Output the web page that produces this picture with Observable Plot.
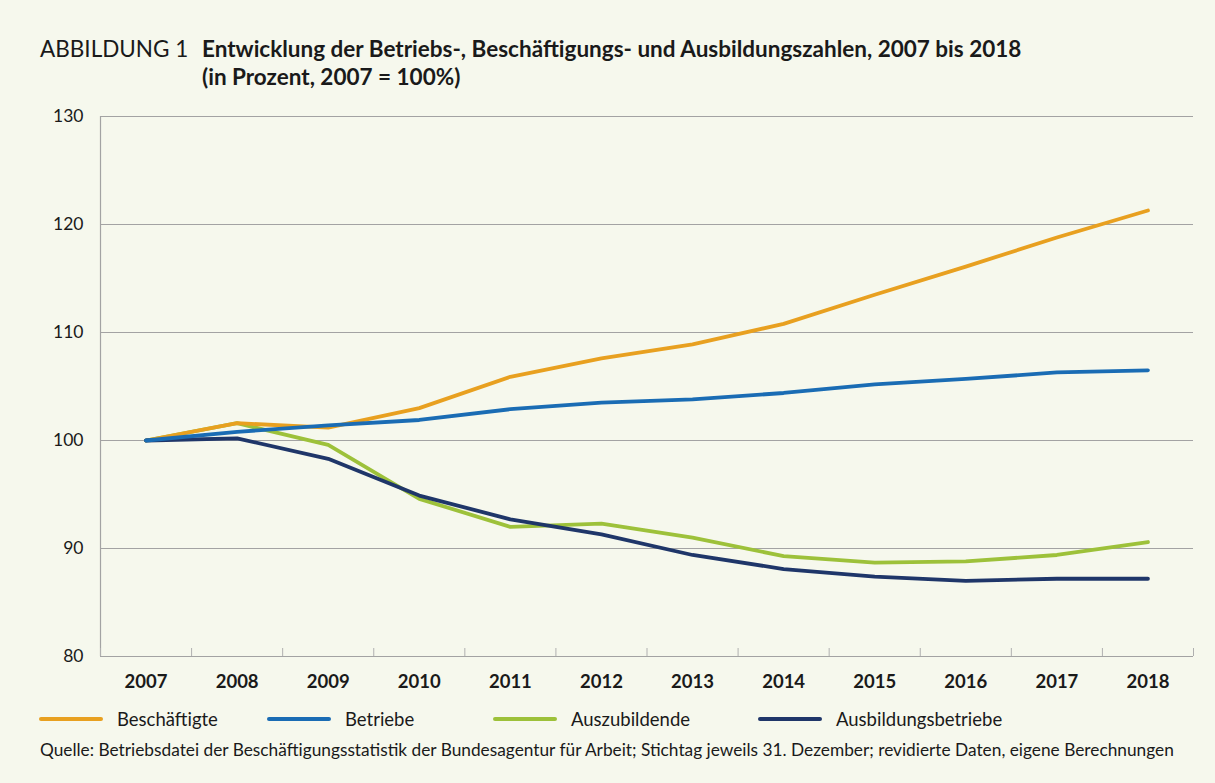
<!DOCTYPE html>
<html>
<head>
<meta charset="utf-8">
<script src="https://cdn.jsdelivr.net/npm/d3@7"></script>
<script src="https://cdn.jsdelivr.net/npm/@observablehq/plot@0.6"></script>
<style>
  html, body { margin: 0; padding: 0; background: #f6f8ed; }
  #wrap { position: relative; width: 1215px; height: 783px; background: #f6f8ed; font-family: Lato, "Open Sans", sans-serif; color: #1a1a1a; overflow: hidden; }
  #title { position: absolute; left: 40px; top: 35px; font-size: 22.5px; line-height: 28px; }
  #title .lab { position: absolute; left: 0; top: 0; white-space: nowrap; }
  #title .main { position: absolute; left: 162px; top: 0; font-weight: 700; white-space: nowrap; }
  #chart { position: absolute; left: 0; top: 100px; }
  #legend { position: absolute; left: 0; top: 706px; width: 1215px; height: 26px; font-size: 18.5px; }
  .item { position: absolute; top: 0; display: flex; align-items: center; height: 26px; white-space: nowrap; }
  .sw { width: 64px; height: 4px; border-radius: 2px; margin-right: 14px; }
  #caption { position: absolute; left: 40px; top: 739px; font-size: 17.3px; white-space: nowrap; color: #1a1a1a; }
</style>
</head>
<body>
<div id="wrap">
  <div id="title">
    <div class="lab">ABBILDUNG 1</div>
    <div class="main">Entwicklung der Betriebs-, Beschäftigungs- und Ausbildungszahlen, 2007 bis 2018<br>(in Prozent, 2007 = 100%)</div>
  </div>
  <div id="chart"></div>
  <div id="legend"></div>
  <div id="caption">Quelle: Betriebsdatei der Beschäftigungsstatistik der Bundesagentur für Arbeit; Stichtag jeweils 31. Dezember; revidierte Daten, eigene Berechnungen</div>
</div>
<script>
const years = [2007, 2008, 2009, 2010, 2011, 2012, 2013, 2014, 2015, 2016, 2017, 2018];
const beschaeftigte = [100, 101.6, 101.2, 103.0, 105.9, 107.6, 108.9, 110.8, 113.5, 116.1, 118.8, 121.3];
const betriebe = [100, 100.8, 101.4, 101.9, 102.9, 103.5, 103.8, 104.4, 105.2, 105.7, 106.3, 106.5];
const auszubildende = [100, 101.6, 99.6, 94.6, 92.0, 92.3, 91.0, 89.3, 88.7, 88.8, 89.4, 90.6];
const ausbildungsbetriebe = [100, 100.2, 98.3, 94.9, 92.7, 91.3, 89.4, 88.1, 87.4, 87.0, 87.2, 87.2];
const yTicks = [80, 90, 100, 110, 120, 130];

const seriesNames = ["Beschäftigte", "Betriebe", "Auszubildende", "Ausbildungsbetriebe"];
const seriesColors = ["#e8a020", "#1a6cb4", "#9dc13a", "#1f3669"];
const seriesValues = [beschaeftigte, betriebe, auszubildende, ausbildungsbetriebe];
// draw order: Auszubildende, Beschäftigte, Ausbildungsbetriebe, Betriebe
const drawOrder = [2, 0, 3, 1];

const rows = [];
for (const i of drawOrder) {
  years.forEach((yr, j) => rows.push({year: yr, value: seriesValues[i][j], series: seriesNames[i]}));
}
const boundaries = [...years.map(y => y - 0.5), years[years.length - 1] + 0.5];

const chart = Plot.plot({
  width: 1215,
  height: 600,
  marginTop: 16,
  marginBottom: 44,
  marginLeft: 100,
  marginRight: 22,
  style: {background: "transparent", fontFamily: "Lato, 'Open Sans', sans-serif", color: "#1a1a1a", overflow: "visible"},
  x: {type: "linear", domain: [boundaries[0], boundaries[boundaries.length - 1]], label: null},
  y: {domain: [80, 130], label: null},
  color: {domain: seriesNames, range: seriesColors},
  marks: [
    Plot.ruleY(yTicks.filter(d => d > 80), {stroke: "#a3a3a3", strokeWidth: 1}),
    Plot.ruleY([80], {stroke: "#a3a3a3", strokeWidth: 1.2}),
    Plot.ruleX([boundaries[0]], {stroke: "#a3a3a3", strokeWidth: 1.2}),
    Plot.axisX({ticks: boundaries, tickSize: -8, tickFormat: () => "", stroke: "#b0b0b0", label: null}),
    Plot.axisX({ticks: years, tickSize: 0, tickPadding: 18, tickFormat: d => String(d), fontSize: 18.5, fontWeight: 700, label: null}),
    Plot.axisY({ticks: yTicks, tickSize: 0, tickPadding: 17, fontSize: 17.5, label: null}),
    Plot.line(rows, {x: "year", y: "value", z: "series", stroke: "series", strokeWidth: 3.8, strokeLinecap: "round", strokeLinejoin: "round"})
  ]
});
document.getElementById("chart").appendChild(chart);

// legend
const legend = document.getElementById("legend");
const legendX = [39, 267, 493, 758];
seriesNames.forEach((name, i) => {
  const it = document.createElement("div");
  it.className = "item";
  it.style.left = legendX[i] + "px";
  const sw = document.createElement("div");
  sw.className = "sw";
  sw.style.background = seriesColors[i];
  const t = document.createElement("span");
  t.textContent = name;
  it.appendChild(sw);
  it.appendChild(t);
  legend.appendChild(it);
});
</script>
</body>
</html>
